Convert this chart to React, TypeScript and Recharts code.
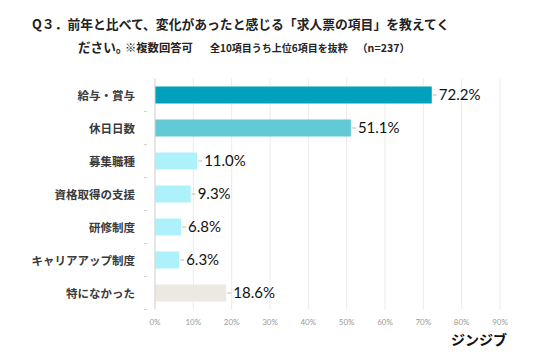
import { Bar, BarChart, CartesianGrid, Cell, LabelList, XAxis, YAxis } from "recharts"

const items = ["給与・賞与", "休日日数", "募集職種", "資格取得の支援", "研修制度", "キャリアアップ制度", "特になかった"]
const shares = [72.2, 51.1, 11.0, 9.3, 6.8, 6.3, 18.6]
const fills = ["#00a1bc", "#62c9d6", "#adf2fb", "#adf2fb", "#adf2fb", "#adf2fb", "#ece9e3"]
const xTicks = [0, 10, 20, 30, 40, 50, 60, 70, 80, 90]

const JP = "'Noto Sans CJK JP', 'Noto Sans', sans-serif"

const rows = items.map((name, i) => ({ name, value: shares[i] }))

function CatTick(props: any) {
  const { x, y, payload } = props
  return (
    <g>
      <text x={x - 12} y={y} textAnchor="end" dominantBaseline="central" fontFamily={JP} fontSize={11.5} fontWeight={700} fill="#3a3a3a">
        {payload.value}
      </text>
      <line x1={x - 3} x2={x} y1={y + 16.5} y2={y + 16.5} stroke="#cfcfcf" />
    </g>
  )
}

function ValueLabel(props: any) {
  const { x, y, width, height, value } = props
  const end = x + width
  const cy = y + height / 2
  return (
    <g>
      <line x1={end + 1} x2={end + 5} y1={cy} y2={cy} stroke="#bbbbbb" />
      <text x={end + 7} y={cy - 1} dominantBaseline="central" fontFamily="Lato, sans-serif" fontSize={15} fill="#111">
        {value.toFixed(1)}%
      </text>
    </g>
  )
}

export default function App() {
  return (
    <div style={{ position: "absolute", left: 0, top: 0, width: 536, height: 357, background: "#fff", fontFamily: JP, color: "#222" }}>
      <div style={{ position: "absolute", left: 32, top: 15, fontSize: 12.8, fontWeight: 700, whiteSpace: "nowrap", lineHeight: "18px" }}>
        Q３．前年と比べて、変化があったと感じる「求人票の項目」を教えてく
      </div>
      <div style={{ position: "absolute", left: 78, top: 38, fontSize: 12.6, fontWeight: 700, whiteSpace: "nowrap", lineHeight: "18px" }}>
        ださい。
      </div>
      <div style={{ position: "absolute", left: 125, top: 39, fontSize: 11.3, fontWeight: 700, whiteSpace: "nowrap", lineHeight: "17px" }}>
        ※複数回答可
      </div>
      <div style={{ position: "absolute", left: 210, top: 40, fontSize: 10, fontWeight: 700, whiteSpace: "nowrap", lineHeight: "15px" }}>
        全10項目うち上位6項目を抜粋
      </div>
      <div style={{ position: "absolute", left: 357, top: 40, fontSize: 10.6, fontWeight: 700, whiteSpace: "nowrap", lineHeight: "15px" }}>
        （n=237）
      </div>
      <div style={{ position: "absolute", left: 451, top: 330, fontSize: 14, fontWeight: 700, whiteSpace: "nowrap", lineHeight: "18px", color: "#111" }}>
        ジンジブ
      </div>
      <BarChart
        width={536}
        height={357}
        data={rows}
        layout="vertical"
        margin={{ top: 78.5, right: 36, bottom: 27.5, left: 0 }}
        barSize={17}
      >
        <CartesianGrid horizontal={false} stroke="#ebebeb" />
        <XAxis
          type="number"
          domain={[0, 90]}
          ticks={xTicks}
          height={20}
          axisLine={false}
          tickLine={false}
          tick={{ fontSize: 8, fill: "#9a9a9a", fontFamily: "Lato, sans-serif" }}
          tickFormatter={(v: number) => `${v}%`}
          tickMargin={4}
        />
        <YAxis
          type="category"
          dataKey="name"
          width={155}
          axisLine={{ stroke: "#d6d6d6" }}
          tickLine={false}
          tick={<CatTick />}
        />
        <Bar dataKey="value" isAnimationActive={false}>
          {rows.map((r, i) => (
            <Cell key={r.name} fill={fills[i]} />
          ))}
          <LabelList dataKey="value" content={<ValueLabel />} />
        </Bar>
      </BarChart>
    </div>
  )
}
